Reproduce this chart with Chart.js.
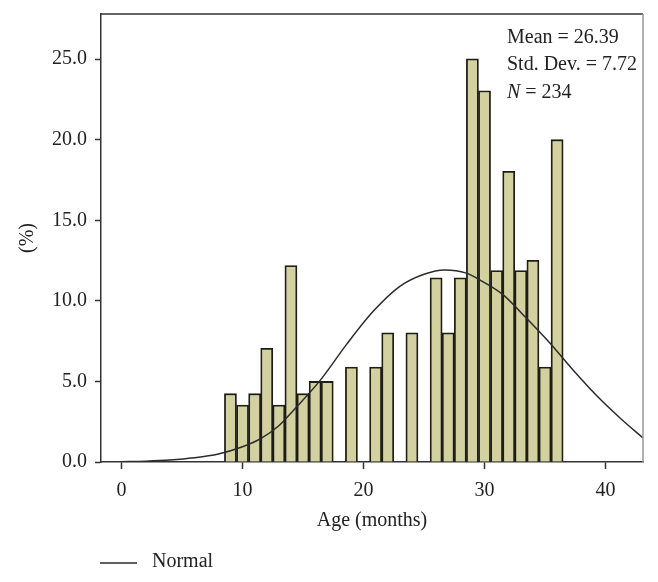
<!DOCTYPE html>
<html>
<head>
<meta charset="utf-8">
<style>
  html, body { margin: 0; padding: 0; background: #fff; }
  #wrap { width: 658px; height: 582px; }
</style>
<script src="https://cdn.jsdelivr.net/npm/chart.js@4.4.0/dist/chart.umd.min.js"></script>
</head>
<body>
<div id="wrap"><canvas id="ctx"></canvas></div>
<script>
// bins are 1 month wide, value = bin centre
const ageBins = [9, 10, 11, 12, 13, 14, 15, 16, 17, 19, 21, 22, 24, 26, 27, 28, 29, 30, 31, 32, 33, 34, 35, 36];
const percent = [4.24, 3.53, 4.24, 7.05, 3.53, 12.19, 4.24, 5.0, 5.0, 5.89, 5.89, 8.02, 8.02, 11.43, 8.02, 11.43, 25.02, 23.04, 11.88, 18.04, 11.88, 12.52, 5.89, 20.0];

// normal curve
const normalX = [0, 2, 4, 6, 8, 10, 11.5, 13, 14.2, 16.4, 18.6, 20.8, 23, 25, 26.7, 28.5, 29.6, 31.5, 33.45, 35.4, 37.3, 39.2, 41.2, 43.1];
const normalY = [0.02, 0.05, 0.12, 0.26, 0.5, 0.95, 1.45, 2.25, 3.2, 5.05, 7.3, 9.35, 10.9, 11.65, 11.92, 11.72, 11.3, 10.4, 8.93, 7.38, 5.72, 4.17, 2.73, 1.49];

const xTicks = [0, 10, 20, 30, 40];
const yTicks = [0, 5, 10, 15, 20, 25];
const stats = ['Mean = 26.39', 'Std. Dev. = 7.72', '= 234'];

const FONT = "'Liberation Serif', 'DejaVu Serif', serif";
const ink = '#2b2b2b';

Chart.defaults.font.family = FONT;
Chart.defaults.font.size = 20;
Chart.defaults.color = '#222';

const extras = {
  id: 'extras',
  afterDraw(chart) {
    const c = chart.ctx;
    const a = chart.chartArea;
    c.save();
    // frame top + right
    c.lineWidth = 1.5;
    c.strokeStyle = '#333';
    c.beginPath();
    c.moveTo(a.left, a.top);
    c.lineTo(a.right, a.top);
    c.stroke();
    c.strokeStyle = '#999';
    c.beginPath();
    c.moveTo(a.right, a.top);
    c.lineTo(a.right, a.bottom);
    c.stroke();

    // stats box
    c.fillStyle = '#222';
    c.textBaseline = 'alphabetic';
    c.textAlign = 'left';
    c.font = '20px ' + FONT;
    c.fillText(stats[0], 507, 43);
    c.fillText(stats[1], 507, 70);
    c.font = 'italic 20px ' + FONT;
    c.fillText('N', 507, 98);
    const nw = c.measureText('N ').width;
    c.font = '20px ' + FONT;
    c.fillText(stats[2], 507 + nw, 98);

    // legend
    c.strokeStyle = ink;
    c.lineWidth = 1.5;
    c.beginPath();
    c.moveTo(100, 563);
    c.lineTo(137, 563);
    c.stroke();
    c.textBaseline = 'middle';
    c.fillText('Normal', 152, 562);
    c.restore();
  }
};

function noPad(s) {
  s.paddingTop = 0;
  s.paddingBottom = 0;
  s.paddingLeft = 0;
  s.paddingRight = 0;
}

new Chart(document.getElementById('ctx'), {
  type: 'bar',
  data: {
    datasets: [
      {
        type: 'line',
        label: 'Normal',
        data: normalX.map((x, i) => ({ x: x, y: normalY[i] })),
        borderColor: ink,
        borderWidth: 1.5,
        pointRadius: 0,
        cubicInterpolationMode: 'monotone',
        order: 0
      },
      {
        label: 'Age',
        data: ageBins.map((x, i) => ({ x: x, y: percent[i] })),
        backgroundColor: '#d4d1a0',
        borderColor: '#1e1e16',
        borderWidth: 1.8,
        categoryPercentage: 1,
        barPercentage: 1,
        order: 1
      }
    ]
  },
  options: {
    responsive: true,
    maintainAspectRatio: false,
    animation: false,
    layout: { padding: { left: 0, top: 14, right: 15, bottom: 0 } },
    plugins: {
      legend: { display: false },
      tooltip: { enabled: false }
    },
    scales: {
      x: {
        type: 'linear',
        offset: false,
        min: -1.7,
        max: 43.1,
        afterFit(s) { s.height = 120; noPad(s); },
        afterBuildTicks(s) { s.ticks = xTicks.map(v => ({ value: v })); },
        grid: { offset: false, drawOnChartArea: false, tickLength: 7, tickColor: '#333', tickWidth: 1.5 },
        border: { color: '#333', width: 1.5 },
        ticks: { padding: 10, color: '#222', callback: v => String(v) },
        title: { display: true, text: 'Age (months)', color: '#222', padding: { top: 0, bottom: 49 } }
      },
      y: {
        min: 0,
        max: 27.8,
        afterFit(s) { s.width = 101; noPad(s); },
        afterBuildTicks(s) { s.ticks = yTicks.map(v => ({ value: v })); },
        grid: { drawOnChartArea: false, tickLength: 6, tickColor: '#333', tickWidth: 1.5 },
        border: { color: '#333', width: 1.5 },
        ticks: { padding: 8, color: '#222', callback: v => v.toFixed(1) },
        title: { display: true, text: '(%)', color: '#222', padding: { top: 16, bottom: 0 } }
      }
    }
  },
  plugins: [extras]
});
</script>
</body>
</html>
